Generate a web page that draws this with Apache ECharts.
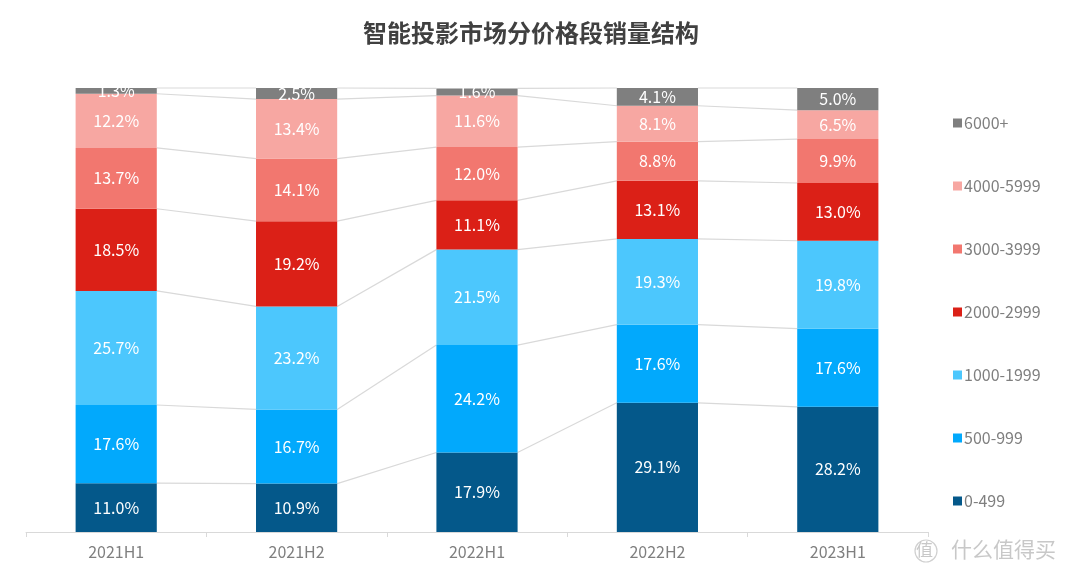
<!DOCTYPE html>
<html>
<head>
<meta charset="utf-8">
<script src="https://cdn.jsdelivr.net/npm/echarts@6/dist/echarts.min.js"></script>
<style>html,body{margin:0;padding:0;background:#fff}#c{width:1080px;height:579px}</style>
</head>
<body>
<div id="c"></div>
<script>
const categories = ['2021H1', '2021H2', '2022H1', '2022H2', '2023H1'];
const seriesNames = ['0-499', '500-999', '1000-1999', '2000-2999', '3000-3999', '4000-5999', '6000+'];
const s0_499 = [11.0, 10.9, 17.9, 29.1, 28.2];
const s500_999 = [17.6, 16.7, 24.2, 17.6, 17.6];
const s1000_1999 = [25.7, 23.2, 21.5, 19.3, 19.8];
const s2000_2999 = [18.5, 19.2, 11.1, 13.1, 13.0];
const s3000_3999 = [13.7, 14.1, 12.0, 8.8, 9.9];
const s4000_5999 = [12.2, 13.4, 11.6, 8.1, 6.5];
const s6000p = [1.3, 2.5, 1.6, 4.1, 5.0];
const legendOrder = ['6000+', '4000-5999', '3000-3999', '2000-2999', '1000-1999', '500-999', '0-499'];

const values = [s0_499, s500_999, s1000_1999, s2000_2999, s3000_3999, s4000_5999, s6000p];
const colors = ['#04588a', '#02a9fc', '#4cc7fd', '#db2017', '#f2776f', '#f7a7a2', '#7f7f7f'];
const barRatio = 0.45;

// cumulative tops for connector lines
const cum = [];
let running = categories.map(() => 0);
values.forEach(arr => {
  running = running.map((r, i) => Math.min(100, r + arr[i]));
  cum.push(running.slice());
});
const lineData = [];
cum.forEach(row => {
  for (let i = 0; i < categories.length - 1; i++) {
    lineData.push([i, row[i], row[i + 1]]);
  }
});

const barSeries = values.map((arr, k) => ({
  name: seriesNames[k],
  type: 'bar',
  stack: 'total',
  barWidth: (barRatio * 100) + '%',
  data: arr,
  itemStyle: { color: colors[k] },
  z: 3,
  label: {
    show: true,
    position: 'inside',
    color: '#ffffff',
    fontSize: 16,
    fontFamily: 'Noto Sans CJK SC',
    formatter: p => p.value.toFixed(1) + '%'
  }
}));

const chart = echarts.init(document.getElementById('c'));
chart.setOption({
  animation: false,
  backgroundColor: '#ffffff',
  title: {
    text: '智能投影市场分价格段销量结构',
    left: 358,
    top: 16,
    textStyle: { fontSize: 24, fontWeight: 'bold', color: '#404040', fontFamily: 'Noto Sans CJK SC' }
  },
  legend: {
    data: legendOrder,
    orient: 'vertical',
    left: 948,
    top: 110,
    itemWidth: 9,
    itemHeight: 9,
    itemGap: 47,
    icon: 'rect',
    textStyle: { fontSize: 16, color: '#7f7f7f', fontFamily: 'Noto Sans CJK SC', padding: [0, 0, 0, -3] }
  },
  grid: { left: 26, right: 152, top: 88, bottom: 47 },
  xAxis: {
    type: 'category',
    data: categories,
    axisLine: { lineStyle: { color: '#d9d9d9' } },
    axisTick: { show: true, length: 5, lineStyle: { color: '#d9d9d9' } },
    axisLabel: { fontSize: 16, color: '#7f7f7f', margin: 12, fontFamily: 'Noto Sans CJK SC' }
  },
  yAxis: {
    type: 'value',
    min: 0,
    max: 100,
    show: false,
    splitLine: { show: false }
  },
  graphic: [
    { type: 'circle', shape: { cx: 926, cy: 551, r: 11 }, style: { fill: 'none', stroke: '#d0d0d0', lineWidth: 1.2 } },
    { type: 'text', left: 916, top: 541, style: { text: '值', fontSize: 17, fill: '#c8c8c8', fontFamily: 'Noto Sans CJK SC' } },
    { type: 'text', left: 951, top: 539, style: { text: '什么值得买', fontSize: 21, fill: '#c8c8c8', fontFamily: 'Noto Sans CJK SC' } }
  ],
  series: [
    {
      type: 'custom',
      name: 'connectors',
      z: 1,
      silent: true,
      data: lineData,
      encode: { x: 0, y: 1 },
      renderItem: (params, api) => {
        const i = api.value(0);
        const p1 = api.coord([i, api.value(1)]);
        const p2 = api.coord([i + 1, api.value(2)]);
        const half = api.size([1, 0])[0] * barRatio / 2;
        return {
          type: 'line',
          shape: { x1: p1[0] + half, y1: p1[1], x2: p2[0] - half, y2: p2[1] },
          style: { stroke: '#d9d9d9', lineWidth: 1.2 }
        };
      }
    }
  ].concat(barSeries)
});
</script>
</body>
</html>
